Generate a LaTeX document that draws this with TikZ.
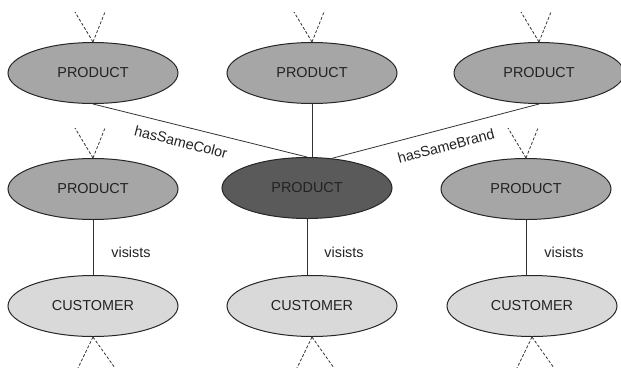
\documentclass[tikz,border=0pt]{standalone}
\usepackage{fontspec}
\setmainfont{Liberation Sans}
\usetikzlibrary{shapes.geometric}
\definecolor{prodgray}{HTML}{A6A6A6}
\definecolor{focusgray}{HTML}{5A5A5A}
\definecolor{custgray}{HTML}{D9D9D9}
\definecolor{inkgray}{HTML}{222222}
\begin{document}
\begin{tikzpicture}[x=0.75pt, y=-0.75pt,
    every node/.style={font=\fontsize{10.8}{13}\selectfont, text=inkgray},
    entity/.style={ellipse, draw=black!85, line width=0.75pt, inner sep=0pt,
      minimum width=127.5pt, minimum height=45.75pt},
    product/.style={entity, fill=prodgray},
    focus/.style={entity, fill=focusgray},
    customer/.style={entity, fill=custgray},
    link/.style={draw=black!80, line width=0.6pt},
    stub/.style={draw=black!80, dash pattern=on 2.2pt off 1.4pt, line width=0.6pt}]
  \useasboundingbox (0,0) rectangle (621,369);
  % Products, customers
  \node[product] (tl) at (93,73) {PRODUCT};
  \node[product] (tm) at (312,73) {PRODUCT};
  \node[product] (tr) at (539,73) {PRODUCT};
  \node[product] (ml) at (93,189) {PRODUCT};
  \node[focus] (c) at (307,188) {PRODUCT};
  \node[product] (mr) at (526,189) {PRODUCT};
  \node[customer] (bl) at (93,306) {CUSTOMER};
  \node[customer] (bm) at (312,306) {CUSTOMER};
  \node[customer] (br) at (532,306) {CUSTOMER};
  % Relations
  \draw[link] (tl.south) -- (c.north);
  \draw[link] (tr.south) -- (c.50);
  \draw[link] (tm.south) -- (tm.south |- c.north);
  \draw[link] (ml.south) -- (ml.south |- bl.north);
  \draw[link] (c.south) -- (c.south |- bm.north);
  \draw[link] (mr.south) -- (mr.south |- br.north);
  \node[rotate=-14.4] (colorlbl) at (181,142) {hasSameColor};
  \node[rotate=15] (brandlbl) at (446,146) {hasSameBrand};
  \node (visl) at (131,252) {visists};
  \node (visc) at (344,252) {visists};
  \node (visr) at (564,252) {visists};
  % Open ends
  \foreach \n in {tl,tm,tr,ml,mr}
    \draw[stub] (\n.north) -- +(-18,-30) (\n.north) -- +(12,-30);
  \foreach \n in {bl,bm,br}
    \draw[stub] (\n.south) -- +(-15,31) (\n.south) -- +(22,31);
\end{tikzpicture}
\end{document}
